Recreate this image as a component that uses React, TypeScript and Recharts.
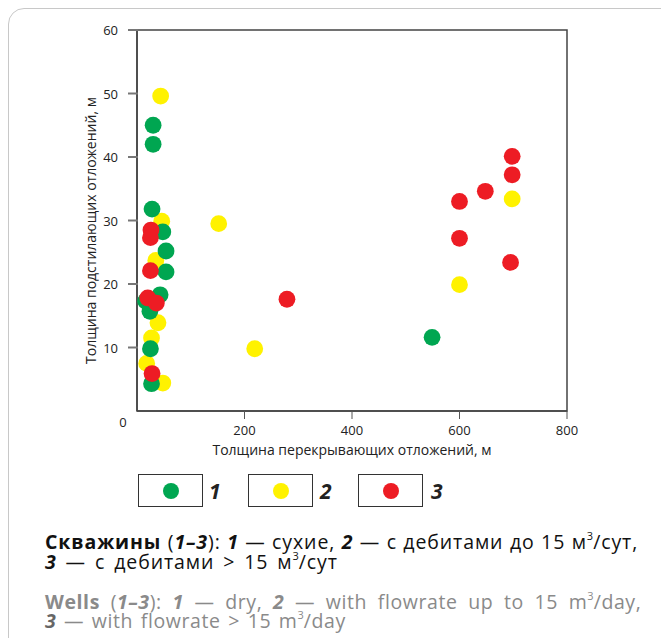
import { ScatterChart, Scatter, XAxis, YAxis, ReferenceArea } from 'recharts'

// скважины: x — толщина перекрывающих, y — толщина подстилающих отложений
const dryWells = [
  { x: 30, y: 45.0 }, { x: 30, y: 42.0 }, { x: 28, y: 31.8 }, { x: 48, y: 28.2 },
  { x: 54, y: 25.2 }, { x: 54, y: 21.9 }, { x: 43, y: 18.3 }, { x: 16, y: 17.3 },
  { x: 24, y: 15.7 }, { x: 25, y: 9.8 }, { x: 27, y: 4.3 }, { x: 549, y: 11.6 },
]
const lowFlowWells = [
  { x: 44, y: 49.6 }, { x: 46, y: 29.9 }, { x: 35, y: 23.7 }, { x: 39, y: 13.9 },
  { x: 27, y: 11.5 }, { x: 18, y: 7.5 }, { x: 48, y: 4.4 }, { x: 152, y: 29.5 },
  { x: 219, y: 9.8 }, { x: 600, y: 19.9 }, { x: 698, y: 33.4 },
]
const highFlowWells = [
  { x: 26, y: 28.5 }, { x: 25, y: 27.3 }, { x: 25, y: 22.1 }, { x: 20, y: 17.8 },
  { x: 36, y: 17.0 }, { x: 28, y: 5.9 }, { x: 279, y: 17.6 }, { x: 600, y: 33.0 },
  { x: 600, y: 27.2 }, { x: 648, y: 34.6 }, { x: 698, y: 40.1 }, { x: 698, y: 37.2 },
  { x: 695, y: 23.4 },
]

const xTicks = [200, 400, 600, 800]
const yTicks = [0, 10, 20, 30, 40, 50, 60]

const series = [
  { key: '1', data: dryWells, color: '#00a651' },
  { key: '2', data: lowFlowWells, color: '#fff200' },
  { key: '3', data: highFlowWells, color: '#ed1c24' },
]
// порядок отрисовки: жёлтые снизу, красные сверху
const drawOrder = ['2', '1', '3']

const FONT = '"Open Sans", sans-serif'

const Dot = (color: string) => (props: any) => {
  const { cx, cy } = props
  if (cx == null || cy == null) return null
  return <circle cx={cx} cy={cy} r={8.4} fill={color} />
}

const YTick = (props: any) => {
  const { x, y, payload } = props
  if (payload.value === 0) {
    return (
      <text x={x - 6} y={y + 16} textAnchor="middle" fontSize={13} fill="#222" fontFamily={FONT}>
        0
      </text>
    )
  }
  return (
    <g>
      <line x1={x - 1} x2={x + 9} y1={y} y2={y} stroke="#777" strokeWidth={2} />
      <text x={x - 11} y={y + 5} textAnchor="end" fontSize={13} fill="#222" fontFamily={FONT}>
        {payload.value}
      </text>
    </g>
  )
}

const YLabel = (props: any) => {
  const { viewBox } = props
  const cx = viewBox.x + viewBox.width - 47
  const cy = viewBox.y + viewBox.height / 2 + 10
  return (
    <text
      transform={`translate(${cx},${cy}) rotate(-90)`}
      textAnchor="middle"
      dominantBaseline="central"
      fontSize={14}
      fill="#222"
      fontFamily={FONT}
    >
      Толщина подстилающих отложений, м
    </text>
  )
}

const sup = (t: string) => (
  <sup style={{ fontSize: 11, lineHeight: 0, verticalAlign: 0, position: 'relative', top: -9, letterSpacing: 0 }}>{t}</sup>
)

export default function App() {
  return (
    <div style={{ position: 'fixed', left: 0, top: 0, width: 661, height: 638, background: '#fff', overflow: 'hidden', fontFamily: FONT }}>
      <div
        style={{
          position: 'absolute', left: 8, top: 8, width: 680, height: 660,
          border: '1.5px solid #c8c8c8', borderRadius: 16, boxSizing: 'border-box',
        }}
      />
      <div style={{ position: 'absolute', left: 0, top: 0 }}>
        <ScatterChart width={661} height={470} margin={{ top: 30, right: 94, left: 77, bottom: 29 }}>
          <XAxis
            type="number"
            dataKey="x"
            domain={[0, 800]}
            ticks={xTicks}
            axisLine={{ stroke: '#444', strokeWidth: 1.5 }}
            tickLine={{ stroke: '#555' }}
            tickSize={8}
            tick={{ fontSize: 13, fill: '#222', fontFamily: FONT, dy: 5 }}
            height={30}
            label={{ value: 'Толщина перекрывающих отложений, м', position: 'insideBottom', offset: -14, fontSize: 14, fill: '#222', fontFamily: FONT }}
          />
          <YAxis
            type="number"
            dataKey="y"
            domain={[0, 60]}
            ticks={yTicks}
            axisLine={{ stroke: '#444', strokeWidth: 1.5 }}
            tickLine={false}
            tick={<YTick />}
            width={60}
            label={<YLabel />}
          />
          <ReferenceArea x1={0} x2={800} y1={0} y2={60} fill="none" stroke="#444" strokeWidth={1.5} fillOpacity={0} />
          {drawOrder.map((k) => {
            const s = series.find((v) => v.key === k)!
            return (
              <Scatter key={k} name={k} data={s.data} fill={s.color} shape={Dot(s.color)} isAnimationActive={false} />
            )
          })}
        </ScatterChart>
      </div>

      {series.map((s, i) => (
        <div key={s.key}>
          <div
            style={{
              position: 'absolute', left: 138 + i * 110, top: 474, width: 65, height: 33,
              border: '1px solid #333', boxSizing: 'border-box',
            }}
          >
            <div
              style={{
                position: 'absolute', left: 24, top: 8, width: 16, height: 16,
                borderRadius: '50%', background: s.color,
              }}
            />
          </div>
          <div
            style={{
              position: 'absolute', left: 209 + i * 111, top: 477, fontSize: 21,
              fontWeight: 700, fontStyle: 'italic', color: '#222',
            }}
          >
            {s.key}
          </div>
        </div>
      ))}

      <div style={{ position: 'absolute', left: 45, top: 532, fontSize: 19.5, lineHeight: '20px', letterSpacing: 0.9, color: '#111', whiteSpace: 'nowrap' }}>
        <div style={{ wordSpacing: 0.5 }}>
          <b>Скважины</b> (<b><i>1–3</i></b>): <b><i>1</i></b> — сухие, <b><i>2</i></b> — с дебитами до 15 м{sup('3')}/сут,
        </div>
        <div style={{ wordSpacing: 3 }}>
          <b><i>3</i></b> — с дебитами &gt; 15 м{sup('3')}/сут
        </div>
      </div>
      <div style={{ position: 'absolute', left: 45, top: 592, fontSize: 19.5, lineHeight: '19px', letterSpacing: 0.6, color: '#8a8a8a', whiteSpace: 'nowrap' }}>
        <div style={{ wordSpacing: 5 }}>
          <b>Wells</b> (<b><i>1–3</i></b>): <b><i>1</i></b> — dry, <b><i>2</i></b> — with flowrate up to 15 m{sup('3')}/day,
        </div>
        <div style={{ wordSpacing: 2 }}>
          <b style={{ color: '#666' }}><i>3</i></b> — with flowrate &gt; 15 m{sup('3')}/day
        </div>
      </div>
    </div>
  )
}
